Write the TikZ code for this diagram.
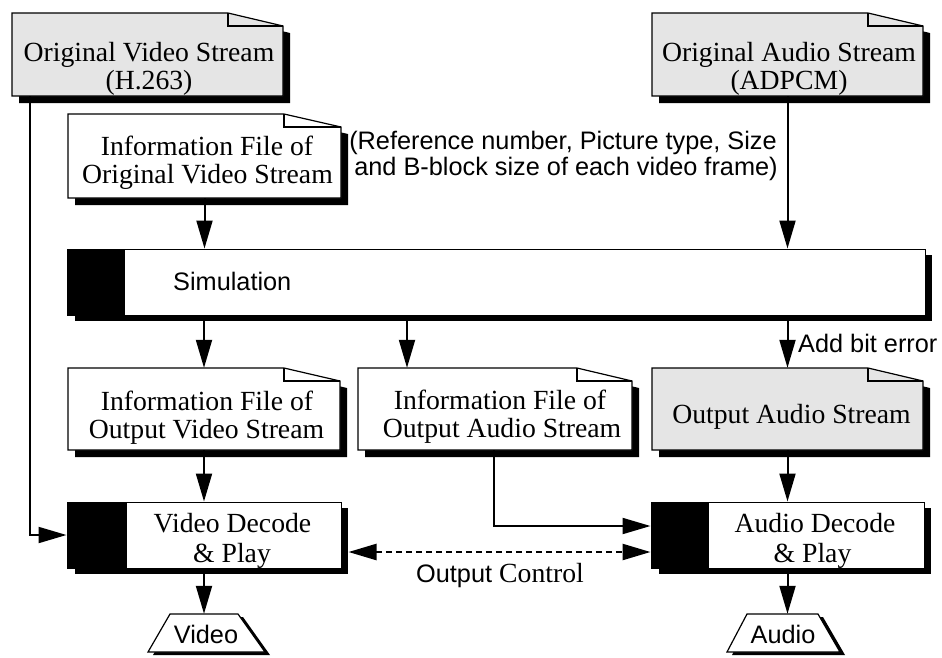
\documentclass[tikz,border=0pt]{standalone}
\usepackage{fontspec}
\setmainfont{Liberation Serif}
\setsansfont{Liberation Sans}
\usetikzlibrary{arrows.meta,fit,calc}

\newcommand\serifsize{\fontsize{27.7}{30}\selectfont\rmfamily}
\newcommand\sanssize{\fontsize{25.3}{27}\selectfont\sffamily}

\tikzset{
  serif/.style={font=\serifsize, inner sep=0pt},
  sans/.style={font=\sanssize, inner sep=0pt},
  conn/.style={line width=2pt},
  arr/.style={conn, -{Triangle[length=28pt,width=16pt]}},
  ctl/.style={line width=2.4pt, dash pattern=on 6pt off 4pt,
    {Triangle[length=28pt,width=16pt]}-{Triangle[length=28pt,width=16pt]}},
  frame/.style={line width=1.2pt},
}

% document symbol with folded corner and drop shadow
% #1 name, #2 left, #3 top, #4 right, #5 bottom, #6 fill, #7 fold x
\newcommand\docbox[7]{%
  \fill (#2+7,#3+7) -- (#7+7,#3+7) -- (#4+7,#3+20) -- (#4+7,#5+7) -- (#2+7,#5+7) -- cycle;
  \node[fit={(#2,#3) (#4,#5)}, inner sep=0pt] (#1) {};
  \filldraw[frame, fill=#6] (#2,#3) -- (#7,#3) -- (#4,#3+13) -- (#4,#5) -- (#2,#5) -- cycle;
  \draw[frame] (#7,#3) -- (#7,#3+13) -- (#4,#3+13);
}

% process box with black tab on the left and drop shadow
% #1 name, #2 left, #3 top, #4 right, #5 bottom, #6 tab right edge
\newcommand\procbox[6]{%
  \fill (#2+8,#3+6) rectangle (#4+7,#5+6);
  \node[fit={(#2,#3) (#4,#5)}, inner sep=0pt, draw, fill=white, line width=1pt] (#1) {};
  \fill (#2,#3) rectangle (#6,#5);
}

% output trapezoid
% #1 name, #2 top, #3 bottom, #4/#5 top left/right, #6/#7 bottom left/right
\newcommand\outbox[7]{%
  \fill (#4+5,#2+3) -- (#5+5,#2+3) -- (#7+5,#3+3) -- (#6+5,#3+3) -- cycle;
  \node[fit={(#6,#2) (#7,#3)}, inner sep=0pt] (#1) {};
  \filldraw[frame, fill=white] (#4,#2) -- (#5,#2) -- (#7,#3) -- (#6,#3) -- cycle;
}

\begin{document}
\begin{tikzpicture}[x=1pt, y=-1pt]
\useasboundingbox[fill=white] (0,0) rectangle (942,657);

% sources
\docbox{ovs}{12}{13}{283}{96}{gray!20}{228}
\docbox{oas}{652}{13}{923}{96}{gray!20}{868}
\docbox{iov}{68}{114}{341}{198}{white}{284}

% simulation
\procbox{sim}{67}{249}{925}{315}{125}

% intermediate results
\docbox{iovo}{68}{368}{340}{450}{white}{284}
\docbox{iao}{358}{368}{632}{450}{white}{577}
\docbox{oas2}{652}{368}{923}{450}{gray!20}{868}

% players
\procbox{vdec}{67}{502}{341}{568}{127}
\procbox{adec}{651}{502}{924}{568}{709}

% outputs
\outbox{vid}{614}{652}{170}{238}{148}{265}
\outbox{aud}{614}{652}{747}{818}{727}{840}

% texts
\node[serif, anchor=base] (ovs-t1) at (149,61) {Original Video Stream};
\node[serif, anchor=base] (ovs-t2) at (149,89) {(H.263)};
\node[serif, anchor=base] (oas-t1) at (789,61) {Original Audio Stream};
\node[serif, anchor=base] (oas-t2) at (789,89) {(ADPCM)};
\node[serif, anchor=base] (iov-t1) at (207,155) {Information File of};
\node[serif, anchor=base] (iov-t2) at (207.5,183) {Original Video Stream};
\node[serif, anchor=base] (iovo-t1) at (207,410) {Information File of};
\node[serif, anchor=base] (iovo-t2) at (206.5,438) {Output Video Stream};
\node[serif, anchor=base] (iao-t1) at (500,409) {Information File of};
\node[serif, anchor=base] (iao-t2) at (502,437) {Output Audio Stream};
\node[serif, anchor=base] (oas2-t) at (791.5,423) {Output Audio Stream};
\node[serif, anchor=base] (vdec-t1) at (232.5,532) {Video Decode};
\node[serif, anchor=base] (vdec-t2) at (232,562) {\& Play};
\node[serif, anchor=base] (adec-t1) at (815,532) {Audio Decode};
\node[serif, anchor=base] (adec-t2) at (812.5,562) {\& Play};

\node[sans, anchor=base west] (sim-t) at (173,290) {Simulation};
\node[sans, anchor=base] (note-t1) at (563,149) {(Reference number, Picture type, Size};
\node[sans, anchor=base] (note-t2) at (566,175) {and B-block size of each video frame)};
\node[sans, anchor=base west] (bit-t) at (798,352) {Add bit error};
\node[sans, anchor=base] (ctl-t) at (500,582) {Output {\serifsize Control}};
\node[sans, anchor=base] (vid-t) at (206,643) {Video};
\node[sans, anchor=base] (aud-t) at (783,643) {Audio};

% connectors
\draw[arr] ([xshift=-117.5pt]ovs.south) |- (vdec.west);
\draw[arr] (iov.south) -- (iov.south |- sim.north);
\draw[arr] (oas.south) -- (oas.south |- sim.north);
\draw[arr] (iovo.north |- sim.south) -- (iovo.north);
\draw[arr] ([xshift=-88pt]iao.north |- sim.south) -- ([xshift=-88pt]iao.north);
\draw[arr] (oas2.north |- sim.south) -- (oas2.north);
\draw[arr] (iovo.south) -- (iovo.south |- vdec.north);
\draw[arr] (oas2.south) -- (oas2.south |- adec.north);
\draw[arr] ([xshift=-1pt]iao.south) |- ([yshift=9pt]adec.west);
\draw[ctl] ([xshift=7pt,yshift=-17pt]vdec.east) -- ([yshift=-17pt]adec.west);
\draw[arr] (vdec.south) -- (vdec.south |- vid.north);
\draw[arr] (adec.south) -- (adec.south |- aud.north);
\end{tikzpicture}
\end{document}
